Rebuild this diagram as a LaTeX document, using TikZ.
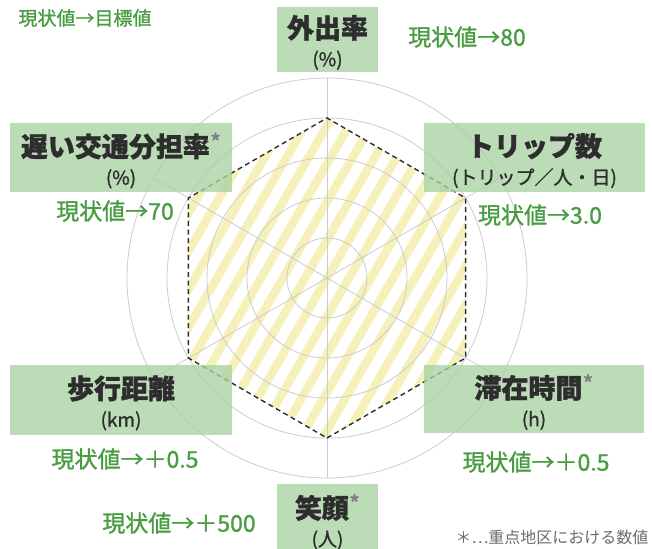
\documentclass[tikz,border=0pt]{standalone}
\usepackage{fontspec}
\setmainfont{Noto Sans CJK JP}
\newfontfamily\medfont{Noto Sans CJK JP}[FakeBold=1.2]
\usetikzlibrary{calc}

\definecolor{boxgreen}{RGB}{168,210,162}
\definecolor{valgreen}{RGB}{74,156,66}
\definecolor{ringgray}{RGB}{204,204,204}
\definecolor{stripeyellow}{RGB}{246,240,186}
\definecolor{textdark}{RGB}{45,45,45}

\newcommand{\ttlfont}{\bfseries\fontsize{27}{27}\selectfont}
\newcommand{\unitfont}{\medfont\fontsize{19}{28}\selectfont}
\newcommand{\valfont}{\medfont\fontsize{23}{25}\selectfont}
\newcommand{\starmark}{\textcolor{gray}{\raisebox{5pt}{\mdseries\fontsize{24}{24}\selectfont *}}}

\begin{document}
\begin{tikzpicture}[x=1pt, y=-1pt,
  axisbox/.style={fill=boxgreen, fill opacity=0.78, draw=none, inner sep=0pt},
  axislabel/.style={text=textdark, align=center, inner sep=0pt, font=\unitfont},
  val/.style={text=valgreen, font=\valfont, inner sep=0pt},
  ring/.style={draw=ringgray, line width=0.8pt},
  stripe/.style={draw=stripeyellow, line width=8.5pt},
  goal/.style={draw=textdark, line width=1.4pt, dash pattern=on 5pt off 3.5pt}]
  \useasboundingbox (0,0) rectangle (652,548);
  \coordinate (c) at (327,278);

  % target hexagon
  \foreach \a [count=\i] in {90,30,-30,-90,-150,150}
    \coordinate (h\i) at ($(c)+(\a:160)$);
  \begin{scope}
    \clip (h1) -- (h2) -- (h3) -- (h4) -- (h5) -- (h6) -- cycle;
    \foreach \k in {-20,...,20}
      \draw[stripe] ($(c)+(\k*22,0)+(-160,277)$) -- ++(320,-554);
  \end{scope}

  % rings and spokes
  \foreach \r in {40,80,...,200}
    \draw[ring] (c) circle[radius=\r];
  \foreach \a in {30,90,150}
    \draw[ring] ($(c)+(\a:200)$) -- ($(c)+(\a+180:200)$);

  \draw[goal] (h1) -- (h2) -- (h3) -- (h4) -- (h5) -- (h6) -- cycle;

  % axis boxes
  \node[axisbox, minimum width=101, minimum height=65] (outbox) at (327.5,39.5) {};
  \node[axisbox, minimum width=221, minimum height=69] (tripbox) at (534.5,157.5) {};
  \node[axisbox, minimum width=222, minimum height=69] (slowbox) at (121,157.5) {};
  \node[axisbox, minimum width=222, minimum height=70] (walkbox) at (121,400) {};
  \node[axisbox, minimum width=220, minimum height=68] (staybox) at (534,399) {};
  \node[axisbox, minimum width=101, minimum height=72] (smilebox) at (327.5,520) {};

  \node[axislabel] (outlabel) at ([yshift=-3pt]outbox.center) {{\ttlfont 外出率}\\(\%)};
  \node[axislabel] (triplabel) at ([yshift=-3pt]tripbox.center) {{\ttlfont トリップ数}\\(トリップ／人・日)};
  \node[axislabel] (slowlabel) at ([yshift=-3pt]slowbox.center) {{\ttlfont 遅い交通分担率\starmark}\\(\%)};
  \node[axislabel] (walklabel) at ([yshift=-3pt]walkbox.center) {{\ttlfont 歩行距離}\\(km)};
  \node[axislabel] (staylabel) at ([yshift=-3pt]staybox.center) {{\ttlfont 滞在時間\starmark}\\(h)};
  \node[axislabel] (smilelabel) at (327.5,522) {{\ttlfont 笑顔\starmark}\\(人)};

  % current -> target values
  \node[val, font=\medfont\fontsize{19}{21}\selectfont] (legend) at (85,18) {現状値→目標値};
  \node[val] (outval) at (467,37) {現状値→80};
  \node[val] (tripval) at (540,215) {現状値→3.0};
  \node[val] (slowval) at (115,211) {現状値→70};
  \node[val] (walkval) at (125,459) {現状値→＋0.5};
  \node[val] (stayval) at (536,462) {現状値→＋0.5};
  \node[val] (smileval) at (179,523) {現状値→＋500};
  \node[text=gray!85!black, font=\fontsize{16}{18}\selectfont, inner sep=0pt] (note) at (552,537) {＊…重点地区における数値};
\end{tikzpicture}
\end{document}
